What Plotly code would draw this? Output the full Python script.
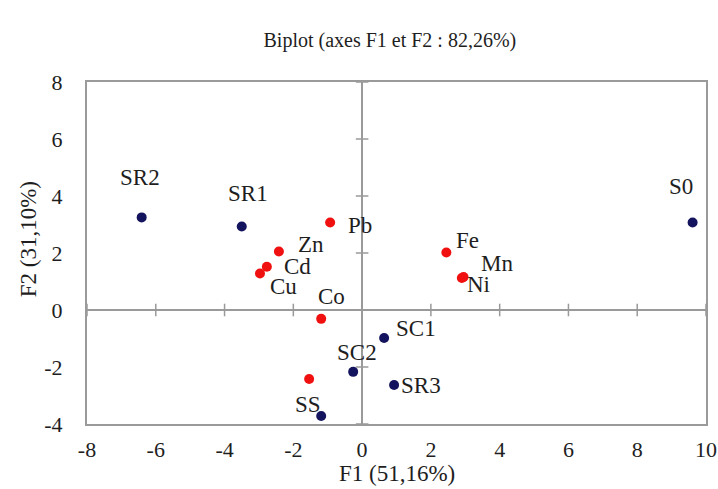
import plotly.graph_objects as go

# Observations (blue)
obs_names = ["SR2", "SR1", "S0", "SC1", "SC2", "SR3", "SS"]
obs_f1 = [-6.41, -3.50, 9.61, 0.64, -0.26, 0.93, -1.19]
obs_f2 = [3.25, 2.93, 3.07, -0.98, -2.17, -2.63, -3.72]
obs_lab_dx = [-2, 6, -12, 32, 4, 27, -13]
obs_lab_dy = [40, 33, 36, 9, 19, -1, 12]

# Variables (red)
var_names = ["Pb", "Zn", "Cd", "Cu", "Co", "Fe", "Mn", "Ni", ""]
var_f1 = [-0.93, -2.42, -2.77, -2.97, -1.19, 2.45, 2.95, 2.90, -1.54]
var_f2 = [3.07, 2.05, 1.52, 1.28, -0.31, 2.02, 1.16, 1.12, -2.42]
var_lab_dx = [30, 32, 31, 24, 10, 21, 33, 17, 0]
var_lab_dy = [-3, 7, 0, -13, 22, 12, 13, -6, 0]

x_ticks = [-8, -6, -4, -2, 0, 2, 4, 6, 8, 10]
x_tick_text = ["-8", "-6", "-4", "-2", "0", "2", "4", "6", "8", "10"]
y_ticks = [-4, -2, 0, 2, 4, 6, 8]
y_tick_text = ["-4", "-2", "0", "2", "4", "6", "8"]

FONT = "Liberation Serif"
AXC = "#9a9a9a"
TXT = "#1e1e1e"

fig = go.Figure()

# tick marks on the zero lines
fig.add_trace(go.Scatter(x=x_ticks, y=[0] * len(x_ticks), mode="markers",
                         marker=dict(symbol="line-ns-open", size=9, color=AXC,
                                     line=dict(color=AXC, width=1.5)),
                         hoverinfo="skip", showlegend=False))
fig.add_trace(go.Scatter(x=[0] * len(y_ticks), y=y_ticks, mode="markers",
                         marker=dict(symbol="line-ew-open", size=9, color=AXC,
                                     line=dict(color=AXC, width=1.5)),
                         hoverinfo="skip", showlegend=False))

fig.add_trace(go.Scatter(x=var_f1, y=var_f2, mode="markers",
                         marker=dict(color="#f01010", size=10),
                         showlegend=False))
fig.add_trace(go.Scatter(x=obs_f1, y=obs_f2, mode="markers",
                         marker=dict(color="#14145e", size=10),
                         showlegend=False))

for n, x, y, dx, dy in zip(obs_names + var_names, obs_f1 + var_f1, obs_f2 + var_f2,
                           obs_lab_dx + var_lab_dx, obs_lab_dy + var_lab_dy):
    if not n:
        continue
    fig.add_annotation(x=x, y=y, text=n, showarrow=False, xshift=dx, yshift=dy,
                       font=dict(family=FONT, size=23, color=TXT))

# axis titles
fig.add_annotation(text="F1 (51,16%)", xref="paper", yref="paper", x=0.5, y=0,
                   yshift=-49, yanchor="middle", showarrow=False,
                   font=dict(family=FONT, size=23, color=TXT))
fig.add_annotation(text="F2 (31,10%)", xref="paper", yref="paper", x=0, y=0.54,
                   xshift=-59, xanchor="center", yanchor="middle", textangle=-90,
                   showarrow=False, font=dict(family=FONT, size=23, color=TXT))

fig.update_layout(
    width=718, height=489,
    margin=dict(l=87, r=12, t=82, b=65),
    paper_bgcolor="white", plot_bgcolor="white",
    title=dict(text="Biplot (axes F1 et F2 : 82,26%)", x=0.543, xanchor="center",
               y=1 - 40 / 489, yref="container", yanchor="middle",
               font=dict(family=FONT, size=20, color=TXT)),
    font=dict(family=FONT, size=22, color=TXT),
)
fig.update_xaxes(range=[-8, 10], tickvals=x_ticks, ticktext=x_tick_text,
                 showgrid=False, automargin=False,
                 zeroline=True, zerolinecolor=AXC, zerolinewidth=1.5,
                 showline=True, linecolor=AXC, linewidth=2, mirror=True,
                 ticks="", ticklabelstandoff=5,
                 tickfont=dict(family=FONT, size=22, color=TXT))
fig.update_yaxes(range=[-4, 8], tickvals=y_ticks, ticktext=y_tick_text,
                 showgrid=False, automargin=False,
                 zeroline=True, zerolinecolor=AXC, zerolinewidth=1.5,
                 showline=True, linecolor=AXC, linewidth=2, mirror=True,
                 ticks="", ticklabelstandoff=18,
                 tickfont=dict(family=FONT, size=22, color=TXT))

fig.write_html("out.html", config={"displayModeBar": False},
               post_script="document.body.style.margin='0';"
                           "document.body.style.overflow='hidden';")
